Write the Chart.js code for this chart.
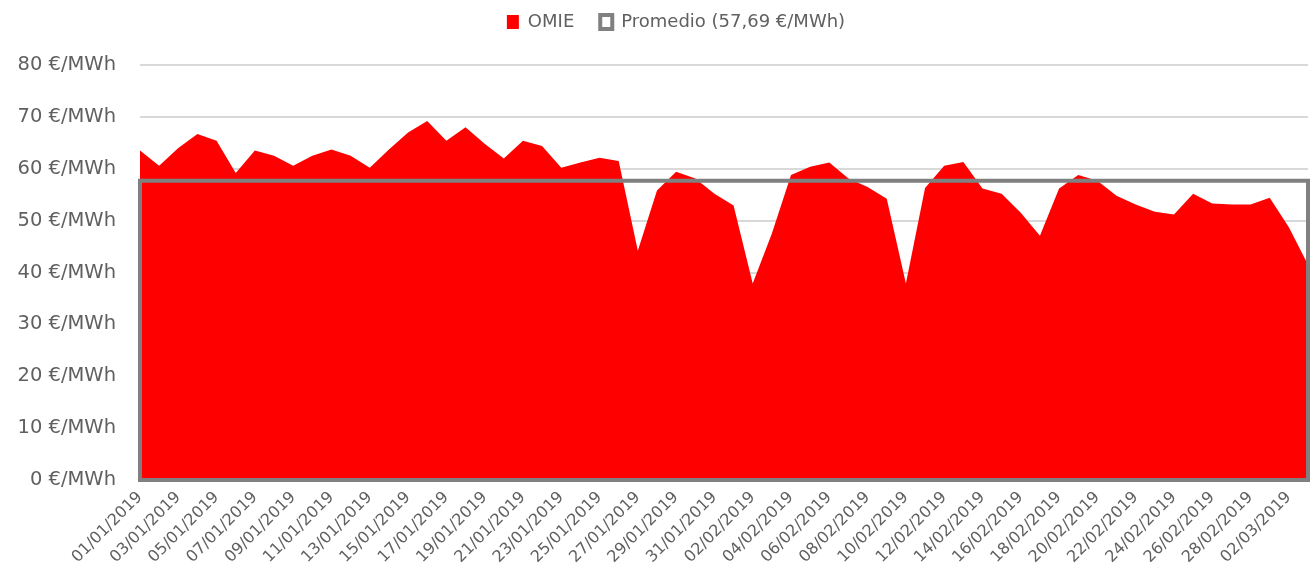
<!doctype html>
<html>
<head>
<meta charset="utf-8">
<script src="https://cdn.jsdelivr.net/npm/chart.js@4.4.0/dist/chart.umd.min.js"></script>
<style>
  body { margin: 0; background: #fff; }
  #wrap { width: 1310px; height: 572px; }
</style>
</head>
<body>
<div id="wrap"><canvas id="c1" width="1310" height="572"></canvas></div>
<script>
// daily dates 01/01/2019 .. 03/03/2019
const dates = [
  "01/01/2019","02/01/2019","03/01/2019","04/01/2019","05/01/2019","06/01/2019","07/01/2019","08/01/2019",
  "09/01/2019","10/01/2019","11/01/2019","12/01/2019","13/01/2019","14/01/2019","15/01/2019","16/01/2019",
  "17/01/2019","18/01/2019","19/01/2019","20/01/2019","21/01/2019","22/01/2019","23/01/2019","24/01/2019",
  "25/01/2019","26/01/2019","27/01/2019","28/01/2019","29/01/2019","30/01/2019","31/01/2019","01/02/2019",
  "02/02/2019","03/02/2019","04/02/2019","05/02/2019","06/02/2019","07/02/2019","08/02/2019","09/02/2019",
  "10/02/2019","11/02/2019","12/02/2019","13/02/2019","14/02/2019","15/02/2019","16/02/2019","17/02/2019",
  "18/02/2019","19/02/2019","20/02/2019","21/02/2019","22/02/2019","23/02/2019","24/02/2019","25/02/2019",
  "26/02/2019","27/02/2019","28/02/2019","01/03/2019","02/03/2019","03/03/2019"
];
const omie = [
  63.5,60.6,64.0,66.7,65.4,59.2,63.5,62.5,60.6,62.5,63.7,62.5,60.2,63.7,67.0,69.2,
  65.4,68.0,64.8,62.0,65.4,64.4,60.2,61.2,62.1,61.5,44.2,55.8,59.4,58.1,55.2,52.9,
  37.9,47.5,58.8,60.4,61.2,58.1,56.5,54.2,37.9,56.3,60.6,61.3,56.2,55.2,51.5,47.1,
  56.2,58.8,57.7,54.8,53.1,51.7,51.2,55.2,53.3,53.1,53.1,54.4,48.7,41.5
];
const promedioValue = 57.69;
const promedio = dates.map(() => promedioValue);
const yTicks = [0,10,20,30,40,50,60,70,80];

const FONT = "'DejaVu Sans', sans-serif";
const GREY = "#808080";
const TEXT = "#606060";

// outline of the Promedio area (top, sides and bottom) like the spreadsheet draws it
const outlinePlugin = {
  id: "outline",
  afterLayout(chart) {
    // nudge the legend the way the original sits (higher, a bit right)
    const lg = chart.legend;
    lg.top -= 24; lg.bottom -= 24;
    lg.left += 22; lg.right += 22;
  },
  afterDatasetsDraw(chart) {
    const pts = chart.getDatasetMeta(1).data;
    if (!pts.length) return;
    const y0 = chart.scales.y.getPixelForValue(0);
    const ctx = chart.ctx;
    ctx.save();
    ctx.strokeStyle = GREY;
    ctx.lineWidth = 4;
    ctx.lineJoin = "miter";
    ctx.beginPath();
    ctx.moveTo(pts[0].x, y0);
    pts.forEach(p => ctx.lineTo(p.x, p.y));
    ctx.lineTo(pts[pts.length - 1].x, y0);
    ctx.closePath();
    ctx.stroke();
    ctx.restore();
  }
};

new Chart(document.getElementById("c1"), {
  type: "line",
  data: {
    labels: dates,
    datasets: [
      {
        label: "OMIE",
        data: omie,
        fill: "origin",
        backgroundColor: "#ff0000",
        borderColor: "#ff0000",
        borderWidth: 0,
        pointRadius: 0,
        tension: 0
      },
      {
        label: "Promedio (57,69 €/MWh)",
        data: promedio,
        fill: false,
        showLine: false,
        backgroundColor: "#ffffff",
        borderColor: GREY,
        borderWidth: 0,
        pointRadius: 0
      }
    ]
  },
  options: {
    responsive: false,
    animation: false,
    layout: { padding: { top: 11, right: 2, left: 0, bottom: 0 } },
    plugins: {
      tooltip: { enabled: false },
      legend: {
        position: "top",
        labels: {
          color: TEXT,
          font: { family: FONT, size: 18 },
          boxWidth: 12,
          boxHeight: 14,
          padding: 26,
          generateLabels(chart) {
            return [
              { text: "OMIE", fillStyle: "#ff0000", strokeStyle: "#ff0000", lineWidth: 0, fontColor: TEXT, datasetIndex: 0 },
              { text: "Promedio (57,69 €/MWh)", fillStyle: "#ffffff", strokeStyle: GREY, lineWidth: 4, fontColor: TEXT, datasetIndex: 1 }
            ];
          }
        }
      }
    },
    scales: {
      x: {
        offset: false,
        grid: { display: false },
        border: { display: false },
        ticks: {
          autoSkip: false,
          minRotation: 45,
          maxRotation: 45,
          color: TEXT,
          font: { family: FONT, size: 16 },
          padding: 0,
          callback(v, i) { return i % 2 === 0 ? dates[i] : ""; }
        },
        afterFit(s) { s.height = 92; s.paddingRight = 0; s.paddingLeft = 0; }
      },
      y: {
        min: 0,
        max: 80,
        afterBuildTicks(s) { s.ticks = yTicks.map(v => ({ value: v })); },
        grid: { color: "#d9d9d9", lineWidth: 2, drawTicks: false },
        border: { display: false },
        ticks: {
          color: TEXT,
          font: { family: FONT, size: 19.5 },
          padding: 24,
          callback(v) { return v + " €/MWh"; }
        },
        afterFit(s) { s.width = 140; }
      }
    }
  },
  plugins: [outlinePlugin]
});
</script>
</body>
</html>
